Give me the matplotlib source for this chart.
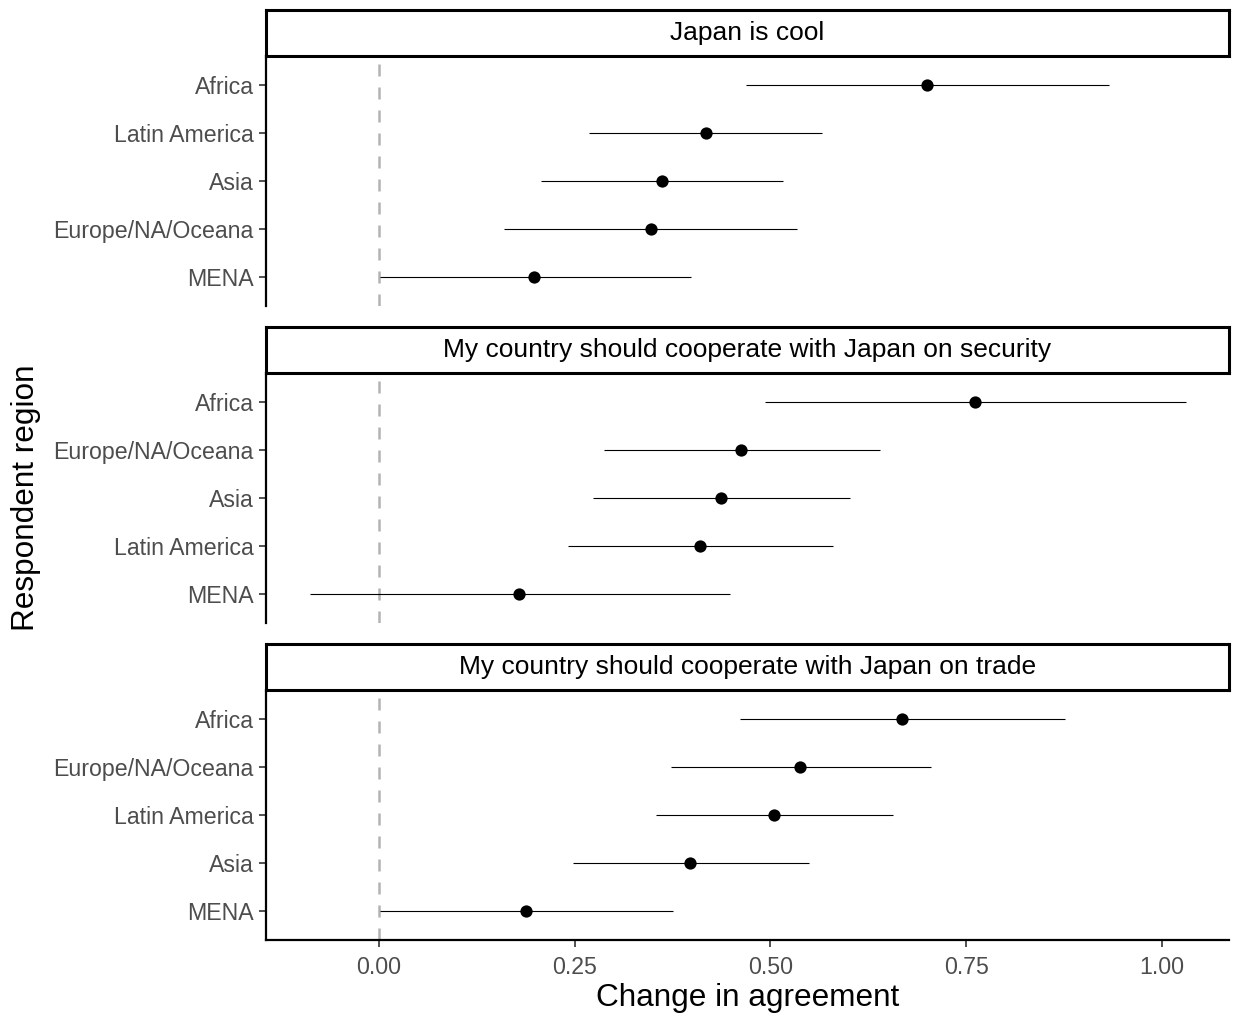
import matplotlib.pyplot as plt

plt.rcParams['font.family'] = ['Liberation Sans', 'DejaVu Sans']

# panel titles
panels = ['Japan is cool',
          'My country should cooperate with Japan on security',
          'My country should cooperate with Japan on trade']

# regions, top to bottom, per panel
regions = [
    ['Africa', 'Latin America', 'Asia', 'Europe/NA/Oceana', 'MENA'],
    ['Africa', 'Europe/NA/Oceana', 'Asia', 'Latin America', 'MENA'],
    ['Africa', 'Europe/NA/Oceana', 'Latin America', 'Asia', 'MENA'],
]
est = [
    [0.700, 0.418, 0.361, 0.347, 0.198],
    [0.761, 0.462, 0.437, 0.410, 0.179],
    [0.668, 0.538, 0.504, 0.397, 0.188],
]
lo = [
    [0.469, 0.268, 0.207, 0.160, 0.001],
    [0.493, 0.287, 0.273, 0.241, -0.088],
    [0.461, 0.373, 0.354, 0.248, 0.001],
]
hi = [
    [0.932, 0.566, 0.516, 0.534, 0.398],
    [1.031, 0.640, 0.602, 0.580, 0.448],
    [0.876, 0.705, 0.656, 0.549, 0.375],
]

W, H = 1235, 1024
fig = plt.figure(figsize=(W / 100, H / 100), dpi=100)

left, right = 266, 1229
panel_tops = [56, 373, 690]
panel_h = 250
strip_h = 46

for i in range(3):
    top = panel_tops[i]
    ax = fig.add_axes([left / W, 1 - (top + panel_h) / H, (right - left) / W, panel_h / H])
    st = fig.add_axes([left / W, 1 - top / H, (right - left) / W, strip_h / H])

    ypos = list(range(1, 6))
    ax.axvline(0, color='#b3b3b3', ls=(0, (4.8, 4.4)), lw=1.8, zorder=1)
    ax.hlines(ypos, lo[i], hi[i], color='black', lw=0.8, zorder=2)
    ax.scatter(est[i], ypos, color='black', s=78, zorder=3, linewidths=0)

    ax.set_xlim(-0.1443, 1.0856)
    ax.set_ylim(5.6, 0.4)
    ax.set_yticks(ypos)
    ax.set_yticklabels(regions[i], fontsize=16.7, color='#4d4d4d')
    ax.set_xticks([0, 0.25, 0.5, 0.75, 1.0])
    for s in ['top', 'right']:
        ax.spines[s].set_visible(False)
    ax.spines['left'].set_linewidth(1.6)
    ax.spines['bottom'].set_linewidth(1.6)
    ax.tick_params(axis='y', length=5, width=1.2, color='#333333', pad=4)
    if i < 2:
        ax.spines['bottom'].set_visible(False)
        ax.tick_params(axis='x', bottom=False, labelbottom=False)
    else:
        ax.set_xticklabels(['0.00', '0.25', '0.50', '0.75', '1.00'], fontsize=16.7, color='#4d4d4d')
        ax.tick_params(axis='x', length=5, width=1.2, color='#333333', pad=6.5)
        ax.set_xlabel('Change in agreement', fontsize=22.7, labelpad=3)

    st.set_xticks([])
    st.set_yticks([])
    for s in st.spines.values():
        s.set_linewidth(2.2)
    st.text(0.5, 0.5, panels[i], ha='center', va='center', fontsize=19, transform=st.transAxes)

fig.text(26 / W, 1 - 498 / H, 'Respondent region', rotation=90, ha='center', va='center', fontsize=22.7)

fig.savefig('out.png', dpi=100)
